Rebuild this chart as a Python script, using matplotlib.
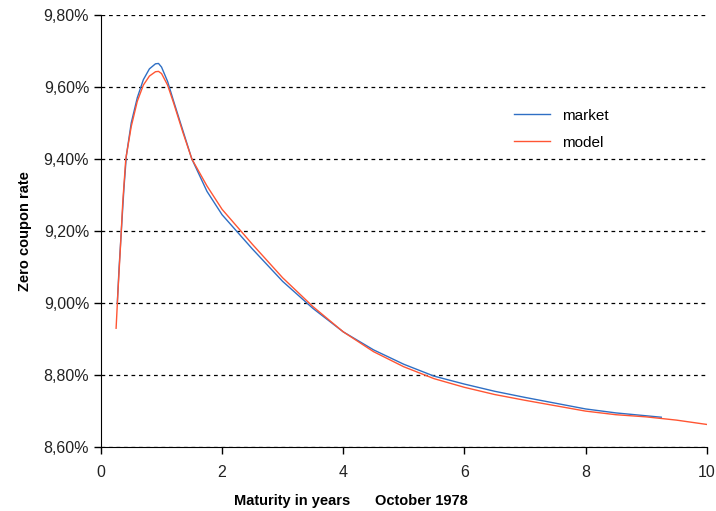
import numpy as np
import matplotlib.pyplot as plt
from matplotlib.ticker import FuncFormatter, MultipleLocator

plt.rcParams['font.family'] = ['Liberation Sans', 'DejaVu Sans']

# --------------------------------------------------------------------#
# Data (rates in %)
# --------------------------------------------------------------------#
t_market = [0.27, 0.30, 0.34, 0.38, 0.42, 0.5, 0.6, 0.7, 0.8, 0.9, 0.95, 1.0,
            1.1, 1.2, 1.35, 1.5, 1.75, 2.0, 2.5, 3.0, 3.5, 4.0, 4.5, 5.0, 5.5,
            6.0, 6.5, 7.0, 7.5, 8.0, 8.5, 9.0, 9.25]
market = [9.00, 9.10, 9.21, 9.32, 9.41, 9.50, 9.57, 9.62, 9.65, 9.664, 9.665,
          9.655, 9.615, 9.56, 9.48, 9.40, 9.31, 9.245, 9.15, 9.06, 8.985, 8.92,
          8.87, 8.83, 8.797, 8.775, 8.755, 8.738, 8.722, 8.706, 8.695, 8.687,
          8.683]

t_model = [0.25, 0.28, 0.32, 0.36, 0.41, 0.5, 0.6, 0.7, 0.8, 0.9, 0.95, 1.0,
           1.1, 1.2, 1.35, 1.5, 1.75, 2.0, 2.5, 3.0, 3.5, 4.0, 4.5, 5.0, 5.5,
           6.0, 6.5, 7.0, 7.5, 8.0, 8.5, 9.0, 9.5, 10.0]
model = [8.93, 9.03, 9.15, 9.28, 9.40, 9.49, 9.56, 9.605, 9.63, 9.642, 9.643,
         9.637, 9.605, 9.555, 9.475, 9.40, 9.325, 9.26, 9.163, 9.07, 8.99, 8.92,
         8.865, 8.823, 8.79, 8.766, 8.746, 8.73, 8.715, 8.70, 8.69, 8.684,
         8.675, 8.663]

# --------------------------------------------------------------------#
# Plot
# --------------------------------------------------------------------#
fig = plt.figure(figsize=(7.16, 5.11), dpi=100)
ax = fig.add_axes([0.141, 0.125, 0.846, 0.846])

ax.plot(t_market, market, color="#2f6fc4", lw=1.0, label="market")
ax.plot(t_model, model, color="#ff5533", lw=1.0, label="model")

ax.set_xlim(0, 10)
ax.set_ylim(8.60, 9.80)
ax.xaxis.set_major_locator(MultipleLocator(2))
ax.yaxis.set_major_locator(MultipleLocator(0.2))
ax.yaxis.set_major_formatter(
    FuncFormatter(lambda v, _: f"{v:.2f}%".replace(".", ",")))

ax.grid(axis="y", color="black", linestyle=(0, (3, 3)), lw=0.9)
ax.set_axisbelow(True)
for side in ("top", "right"):
    ax.spines[side].set_visible(False)
ax.tick_params(direction="out", length=5, width=1, labelsize=11.5,
               colors="black", labelcolor="#222222")
ax.tick_params(axis="x", pad=8)

bold = dict(fontsize=10.5, fontweight="bold",
            family=["Liberation Sans Narrow", "Liberation Sans"])
ax.set_ylabel("Zero coupon rate", labelpad=8, **bold)
ax.set_xlabel("Maturity in years      October 1978", labelpad=10, **bold)
ax.xaxis.label.set_x(0.413)  # label sits left of the axes centre

ax.legend(loc="upper left", bbox_to_anchor=(0.66, 0.815), frameon=False,
          fontsize=11, handlelength=2.3, labelspacing=0.85)

fig.savefig("out.png", dpi=100)
